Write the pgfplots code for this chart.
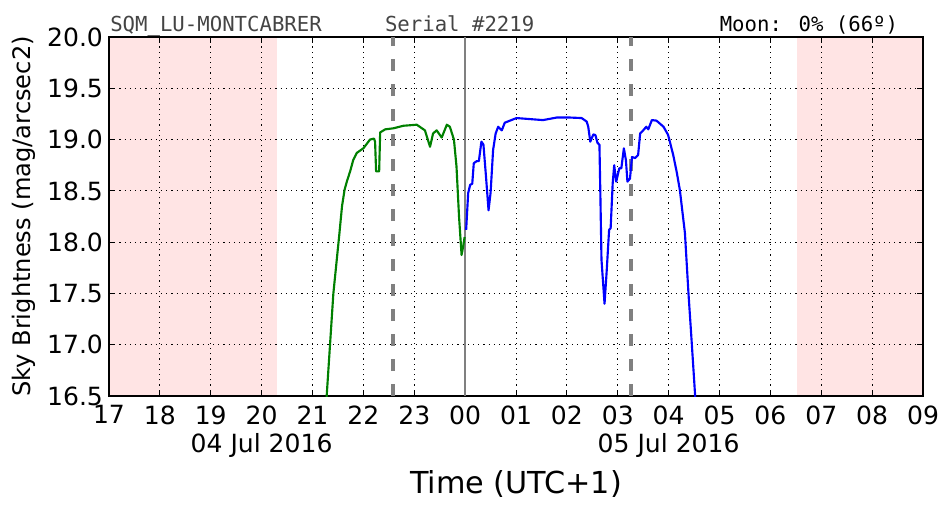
\documentclass[border=0pt]{standalone}
\usepackage{pgfplots}
\pgfplotsset{compat=1.18}
\usepackage{fontspec}
\setmainfont{DejaVu Sans}
\newfontfamily\monofont{DejaVu Sans Mono}
\definecolor{mgreen}{RGB}{0,128,0}
\definecolor{mpink}{RGB}{255,228,228}
\definecolor{titlegray}{RGB}{68,68,68}
\begin{document}
\begin{tikzpicture}
\begin{axis}[
  set layers,
  scale only axis,
  width=610.5pt, height=269.25pt,
  xmin=17, xmax=33, ymin=16.5, ymax=20.0,
  xtick={17,18,...,33},
  xticklabels={17,18,19,20,21,22,23,00,01,02,03,04,05,06,07,08,09},
  ytick={16.5,17.0,...,20.0},
  yticklabel style={/pgf/number format/fixed,/pgf/number format/fixed zerofill,/pgf/number format/precision=1, xshift=-1pt},
  /pgf/number format/assume math mode=true,
  ticklabel style={font=\fontsize{18.8}{18.8}\selectfont},
  xticklabel style={yshift=-3.5pt},
  grid=major,
  major grid style={black, line width=0.75pt, dash pattern=on 0.9pt off 3pt},
  tick align=inside,
  major tick length=4.5pt,
  every tick/.style={black, line width=0.75pt},
  axis line style={black, line width=1.5pt},
  clip mode=individual,
  ylabel={Sky Brightness (mag/arcsec2)},
  ylabel style={font=\fontsize{18.1}{18.1}\selectfont, at={(rel axis cs:0,0.5)}, anchor=center, yshift=64pt},
  xlabel={Time (UTC+1)},
  xlabel style={font=\fontsize{22.7}{22.7}\selectfont, at={(rel axis cs:0.5,0)}, anchor=base, yshift=-72.75pt},
]
% night/day shading
\addplot[on layer=axis background, draw=none, fill=mpink, forget plot] coordinates {(17,16.5) (20.30,16.5) (20.30,20.0) (17,20.0)} -- cycle;
\addplot[on layer=axis background, draw=none, fill=mpink, forget plot] coordinates {(30.52,16.5) (33,16.5) (33,20.0) (30.52,20.0)} -- cycle;
% vertical markers
\addplot[gray, line width=3pt, dash pattern=on 8.75pt off 10pt, forget plot] coordinates {(22.58,16.5) (22.58,20.0)};
\addplot[gray, line width=3pt, dash pattern=on 8.75pt off 10pt, forget plot] coordinates {(27.26,16.5) (27.26,20.0)};
\addplot[gray, line width=1.1pt, forget plot] coordinates {(24.0,16.5) (24.0,20.0)};
% green series
\addplot[mgreen, line width=1.6pt, line join=round] coordinates {
(21.27,16.40) (21.28,16.51) (21.41,17.50) (21.53,18.09) (21.58,18.35) (21.63,18.51) (21.68,18.60) (21.74,18.69)
(21.80,18.80) (21.87,18.87) (22.00,18.915) (22.13,19.00) (22.21,19.01) (22.23,18.98) (22.25,18.69)
(22.31,18.69) (22.33,19.07) (22.43,19.10) (22.59,19.11) (22.79,19.135) (23.05,19.145)
(23.21,19.09) (23.31,18.93) (23.37,19.06) (23.44,19.09) (23.54,19.02) (23.64,19.145)
(23.70,19.125) (23.78,19.00) (23.83,18.74) (23.88,18.25) (23.93,17.875) (23.96,17.955)
(23.99,18.05)
};
% blue series
\addplot[blue, line width=1.6pt, line join=round] coordinates {
(24.02,18.12) (24.06,18.48) (24.10,18.56) (24.14,18.57) (24.17,18.77) (24.23,18.79)
(24.27,18.79) (24.32,18.98) (24.36,18.95) (24.41,18.64) (24.46,18.31) (24.50,18.48)
(24.55,18.90) (24.60,19.06) (24.65,19.125) (24.72,19.09) (24.78,19.165) (25.01,19.21)
(25.27,19.20) (25.53,19.19) (25.80,19.215) (26.06,19.215) (26.29,19.21) (26.39,19.175)
(26.42,19.125) (26.46,18.98) (26.52,19.05) (26.56,19.045) (26.60,18.97) (26.64,18.95)
(26.66,18.41) (26.68,17.83) (26.74,17.40) (26.78,17.70) (26.83,18.12) (26.86,18.135)
(26.90,18.57) (26.93,18.75) (26.97,18.59) (27.03,18.72) (27.07,18.72) (27.12,18.915)
(27.16,18.80) (27.19,18.59) (27.24,18.62) (27.28,18.83) (27.34,18.82) (27.40,18.85)
(27.44,19.06) (27.50,19.09) (27.56,19.125) (27.60,19.10) (27.67,19.19) (27.76,19.185)
(27.90,19.125) (27.99,19.045) (28.09,18.85) (28.16,18.68) (28.22,18.51) (28.32,18.09) (28.39,17.50)
(28.45,17.05) (28.52,16.51) (28.53,16.40)
};
% date labels and header texts
\node[anchor=base, font=\fontsize{18.8}{18.8}\selectfont] at ([yshift=-42.5pt]axis cs:20,16.5) {04 Jul 2016};
\node[anchor=base, font=\fontsize{18.8}{18.8}\selectfont] at ([yshift=-42.5pt]axis cs:28,16.5) {05 Jul 2016};
\node[anchor=base west, inner sep=0pt, text=titlegray, font=\monofont\fontsize{15.5}{15.5}\selectfont] at ([yshift=4.5pt]axis cs:17.02,20.0) {SQM\_LU-MONTCABRER};
\node[anchor=base west, inner sep=0pt, text=titlegray, font=\monofont\fontsize{15.5}{15.5}\selectfont] at ([yshift=4.5pt]axis cs:22.42,20.0) {Serial \#2219};
\node[anchor=base west, inner sep=0pt, text=black, font=\monofont\fontsize{15.5}{15.5}\selectfont] at ([yshift=4.5pt]axis cs:29.0,20.0) {Moon: 0\% (66º)};
% bounding box
\path (rel axis cs:-0.1339,-0.3231) rectangle (rel axis cs:1.0356,1.1031);
\end{axis}
\end{tikzpicture}
\end{document}
